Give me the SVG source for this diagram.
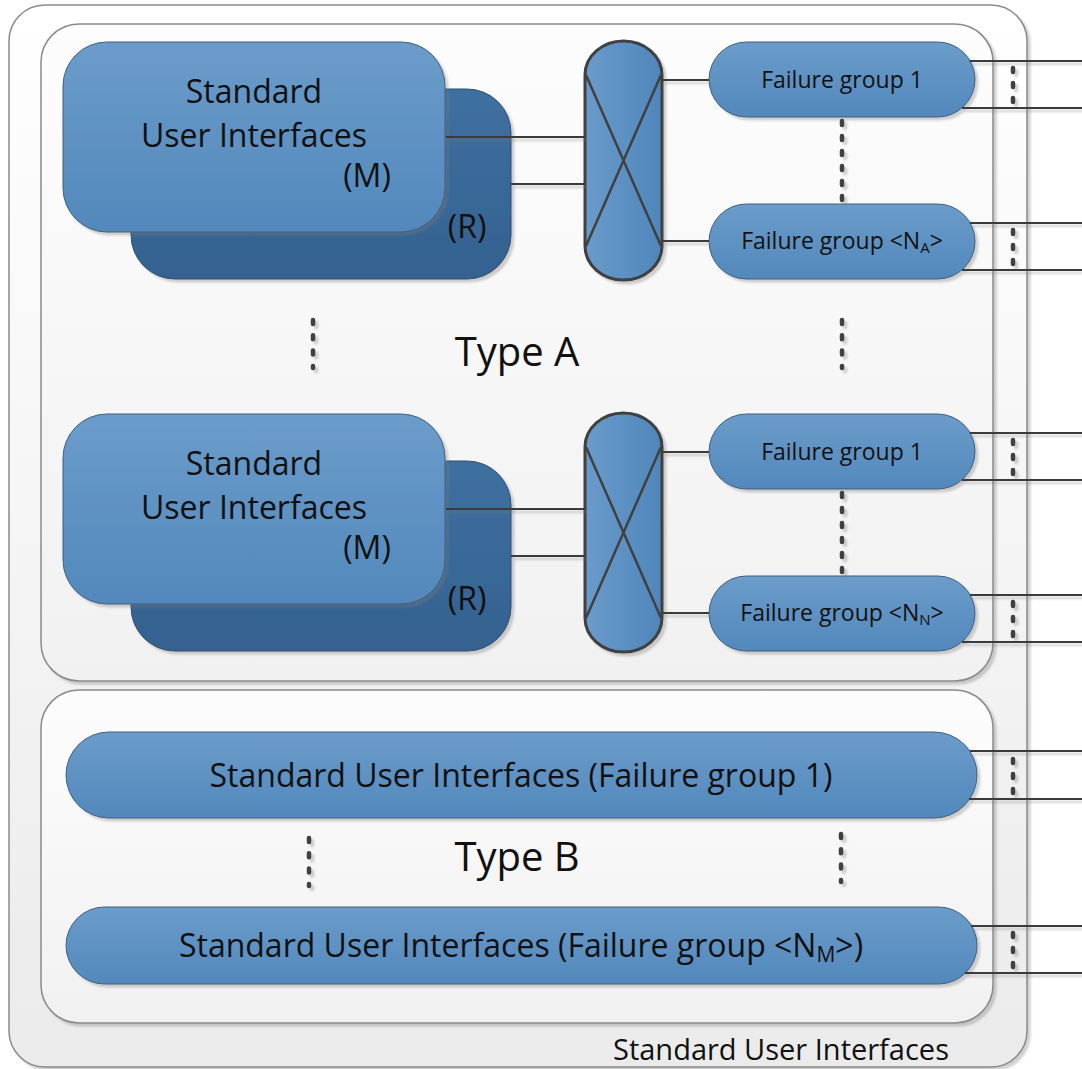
<svg xmlns="http://www.w3.org/2000/svg" width="1082" height="1069" viewBox="0 0 1082 1069">
  <defs>
    <linearGradient id="gBlue" x1="0" y1="0" x2="0" y2="1">
      <stop offset="0" stop-color="#6b9cca"/>
      <stop offset="1" stop-color="#5388bc"/>
    </linearGradient>
    <linearGradient id="gDark" x1="0" y1="0" x2="0" y2="1">
      <stop offset="0" stop-color="#3e70a0"/>
      <stop offset="1" stop-color="#34618f"/>
    </linearGradient>
    <linearGradient id="gSwitch" x1="0" y1="0" x2="1" y2="0">
      <stop offset="0" stop-color="#6a9bcb"/>
      <stop offset="1" stop-color="#4f86bb"/>
    </linearGradient>
    <linearGradient id="gOuter" x1="0" y1="0" x2="0" y2="1">
      <stop offset="0" stop-color="#ffffff"/>
      <stop offset="1" stop-color="#ebebeb"/>
    </linearGradient>
    <linearGradient id="gPanel" x1="0" y1="0" x2="0" y2="1">
      <stop offset="0" stop-color="#fdfdfd"/>
      <stop offset="1" stop-color="#f1f1f1"/>
    </linearGradient>
    <filter id="shadow" x="-10%" y="-10%" width="130%" height="130%">
      <feDropShadow dx="3" dy="3" stdDeviation="1.2" flood-color="#7a7a7a" flood-opacity="0.35"/>
    </filter>
  </defs>
  <style>
    .container { stroke: #8a8a8a; stroke-width: 1.5; filter: url(#shadow); }
    .outer { fill: url(#gOuter); }
    .panel { fill: url(#gPanel); }
    .shape { fill: url(#gBlue); stroke: #3f5f7e; stroke-width: 1; filter: url(#shadow); }
    .back { fill: url(#gDark); stroke: #2f4f6e; stroke-width: 1; filter: url(#shadow); }
    .switch { fill: url(#gSwitch); stroke: #404040; stroke-width: 3; filter: url(#shadow); }
    .cross { stroke: #404040; stroke-width: 2.5; fill: none; }
    .link { stroke: #3a3a3a; stroke-width: 2.2; fill: none; }
    .dots { stroke: #404040; stroke-width: 4.5; stroke-linecap: round; fill: none; }
    text { font-family: "Open Sans", "Liberation Sans", sans-serif; fill: #111111; text-anchor: middle; }
    .big { font-size: 32px; }
    .fg { font-size: 23px; }
    .type { font-size: 40px; }
    .label { font-size: 29px; }
  </style>

  <!-- outer frame -->
  <g id="frame">
    <rect class="container outer" x="9" y="5" width="1018" height="1062" rx="36" ry="36"/>
    <text class="label" x="781" y="1060">Standard User Interfaces</text>
  </g>

  <!-- Type A panel -->
  <g id="panelA">
    <rect class="container panel" x="41" y="24" width="952" height="657" rx="38" ry="38"/>
    <text class="type" x="517" y="366">Type A</text>
  </g>

  <!-- Type B panel -->
  <g id="panelB">
    <rect class="container panel" x="41" y="690" width="952" height="333" rx="38" ry="38"/>
    <text class="type" x="517" y="871">Type B</text>
  </g>

  <!-- Type A, first set -->
  <g id="a1-redundant">
    <rect class="back" x="131" y="89" width="380" height="190" rx="44" ry="44"/>
    <text class="big" x="467" y="238">(R)</text>
  </g>
  <g id="a1-main">
    <rect class="shape" x="63" y="42" width="382" height="190" rx="44" ry="44"/>
    <text class="big" x="254" y="103">Standard</text>
    <text class="big" x="254" y="147">User Interfaces</text>
    <text class="big" x="367" y="187">(M)</text>
  </g>
  <g id="a1-switch">
    <rect class="switch" x="585" y="41" width="77" height="239" rx="38.5" ry="34"/>
    <line class="cross" x1="586" y1="75" x2="661" y2="246"/>
    <line class="cross" x1="661" y1="75" x2="586" y2="246"/>
  </g>
  <g id="a1-fg1">
    <rect class="shape" x="709" y="42" width="266" height="75" rx="37.5" ry="37.5"/>
    <text class="fg" x="842" y="88">Failure group 1</text>
  </g>
  <g id="a1-fgN">
    <rect class="shape" x="709" y="204" width="266" height="75" rx="37.5" ry="37.5"/>
    <text class="fg" x="842" y="249">Failure group &lt;N<tspan font-size="15" dy="4">A</tspan><tspan dy="-4">&gt;</tspan></text>
  </g>

  <!-- Type A, second set -->
  <g id="a2-redundant">
    <rect class="back" x="131" y="461" width="380" height="190" rx="44" ry="44"/>
    <text class="big" x="467" y="610">(R)</text>
  </g>
  <g id="a2-main">
    <rect class="shape" x="63" y="414" width="382" height="190" rx="44" ry="44"/>
    <text class="big" x="254" y="475">Standard</text>
    <text class="big" x="254" y="519">User Interfaces</text>
    <text class="big" x="367" y="559">(M)</text>
  </g>
  <g id="a2-switch">
    <rect class="switch" x="585" y="413" width="77" height="239" rx="38.5" ry="34"/>
    <line class="cross" x1="586" y1="447" x2="661" y2="618"/>
    <line class="cross" x1="661" y1="447" x2="586" y2="618"/>
  </g>
  <g id="a2-fg1">
    <rect class="shape" x="709" y="414" width="266" height="75" rx="37.5" ry="37.5"/>
    <text class="fg" x="842" y="460">Failure group 1</text>
  </g>
  <g id="a2-fgN">
    <rect class="shape" x="709" y="576" width="266" height="75" rx="37.5" ry="37.5"/>
    <text class="fg" x="842" y="621">Failure group &lt;N<tspan font-size="15" dy="4">N</tspan><tspan dy="-4">&gt;</tspan></text>
  </g>

  <!-- Type B -->
  <g id="b-fg1">
    <rect class="shape" x="66" y="732" width="911" height="86" rx="43" ry="43"/>
    <text class="big" x="521" y="787">Standard User Interfaces (Failure group 1)</text>
  </g>
  <g id="b-fgN">
    <rect class="shape" x="66" y="907" width="911" height="77" rx="38.5" ry="38.5"/>
    <text class="big" x="521" y="957">Standard User Interfaces (Failure group &lt;N<tspan font-size="21" dy="5">M</tspan><tspan dy="-5">&gt;)</tspan></text>
  </g>

  <!-- connectors -->
  <g id="connectors" filter="url(#shadow)">
    <!-- interfaces to switch -->
    <line class="link" x1="446" y1="137" x2="585" y2="137"/>
    <line class="link" x1="511" y1="184" x2="585" y2="184"/>
    <line class="link" x1="446" y1="509" x2="585" y2="509"/>
    <line class="link" x1="511" y1="556" x2="585" y2="556"/>
    <!-- switch to failure groups -->
    <line class="link" x1="662" y1="80" x2="709" y2="80"/>
    <line class="link" x1="662" y1="241" x2="709" y2="241"/>
    <line class="link" x1="662" y1="452" x2="709" y2="452"/>
    <line class="link" x1="662" y1="613" x2="709" y2="613"/>
    <!-- outgoing links -->
    <line class="link" x1="970" y1="61" x2="1082" y2="61"/>
    <line class="link" x1="962" y1="108" x2="1082" y2="108"/>
    <line class="link" x1="970" y1="223" x2="1082" y2="223"/>
    <line class="link" x1="962" y1="270" x2="1082" y2="270"/>
    <line class="link" x1="970" y1="433" x2="1082" y2="433"/>
    <line class="link" x1="962" y1="480" x2="1082" y2="480"/>
    <line class="link" x1="970" y1="595" x2="1082" y2="595"/>
    <line class="link" x1="962" y1="642" x2="1082" y2="642"/>
    <line class="link" x1="970" y1="751" x2="1082" y2="751"/>
    <line class="link" x1="969" y1="799" x2="1082" y2="799"/>
    <line class="link" x1="971" y1="926" x2="1082" y2="926"/>
    <line class="link" x1="965" y1="973" x2="1082" y2="973"/>
    <!-- ellipsis dots -->
    <line class="dots" x1="1013" y1="68" x2="1013" y2="102" stroke-dasharray="4 11"/>
    <line class="dots" x1="1013" y1="230" x2="1013" y2="264" stroke-dasharray="4 11"/>
    <line class="dots" x1="1013" y1="440" x2="1013" y2="474" stroke-dasharray="4 11"/>
    <line class="dots" x1="1013" y1="602" x2="1013" y2="636" stroke-dasharray="4 11"/>
    <line class="dots" x1="1013" y1="759" x2="1013" y2="793" stroke-dasharray="4 11"/>
    <line class="dots" x1="1013" y1="933" x2="1013" y2="967" stroke-dasharray="4 11"/>
    <line class="dots" x1="842" y1="121" x2="842" y2="200" stroke-dasharray="4 11"/>
    <line class="dots" x1="842" y1="493" x2="842" y2="572" stroke-dasharray="4 11"/>
    <line class="dots" x1="313" y1="320" x2="313" y2="368" stroke-dasharray="4 11.3"/>
    <line class="dots" x1="842" y1="320" x2="842" y2="368" stroke-dasharray="4 11.3"/>
    <line class="dots" x1="309" y1="838" x2="309" y2="886" stroke-dasharray="4 11.3"/>
    <line class="dots" x1="841" y1="834" x2="841" y2="882" stroke-dasharray="4 11.3"/>
  </g>
</svg>
